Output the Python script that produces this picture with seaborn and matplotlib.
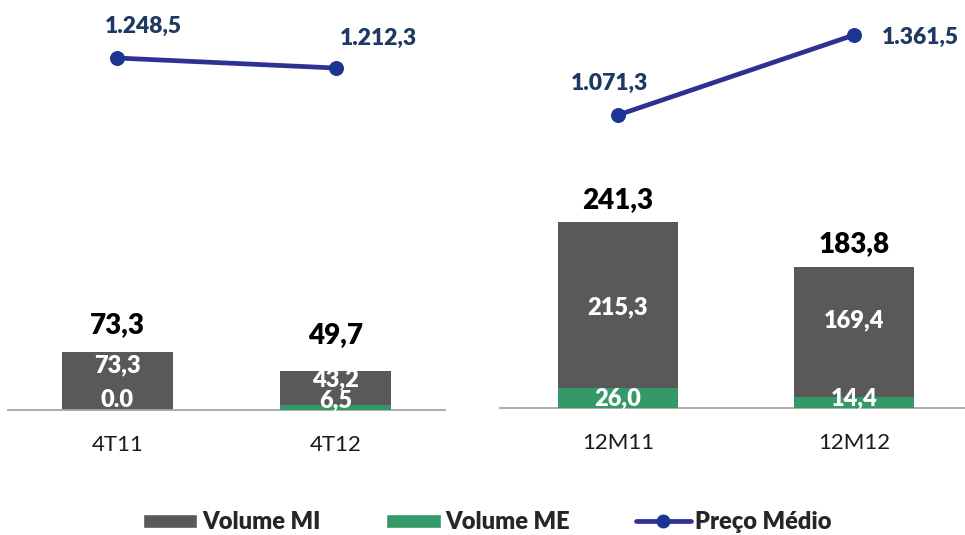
import matplotlib.pyplot as plt
import numpy as np
import seaborn as sns
from matplotlib.lines import Line2D
from matplotlib.patches import Patch

# dados (mil t / R$ por t)
periodos_tri = ["4T11", "4T12"]
periodos_ano = ["12M11", "12M12"]
volume_mi_tri = [73.3, 43.2]
volume_me_tri = [0.0, 6.5]
volume_mi_ano = [215.3, 169.4]
volume_me_ano = [26.0, 14.4]
preco_tri = [1248.5, 1212.3]
preco_ano = [1071.3, 1361.5]

COR_MI = "#595959"
COR_ME = "#339966"
COR_LINHA = "#2E3192"
COR_MARCA = "#1C3593"
COR_PRECO_TXT = "#1F3864"

sns.set_style("white")
plt.rcParams["font.family"] = ["Lato", "DejaVu Sans"]


def fmt_br(v):
    s = f"{v:,.1f}"
    return s.replace(",", "X").replace(".", ",").replace("X", ".")


def fmt_me(v):
    # o rótulo zero aparece com ponto no original
    return "0.0" if v == 0 else fmt_br(v)


def painel(fig, pos, cats, mi, me, preco, ylim_bar, ylim_preco,
           nudge_mi, gap_total, off_preco):
    ax = fig.add_axes(pos)
    mi = np.array(mi)
    me = np.array(me)
    total = mi + me
    x = np.arange(len(cats))

    # barra total (MI) e ME por cima, na base
    sns.barplot(x=cats, y=total, color=COR_MI, width=0.51, saturation=1,
                linewidth=0, ax=ax, zorder=2)
    sns.barplot(x=cats, y=me, color=COR_ME, width=0.51, saturation=1,
                linewidth=0, ax=ax, zorder=3)
    ax.set_xlim(-0.5, 1.5)
    ax.set_ylim(*ylim_bar)
    for s in ["top", "right", "left"]:
        ax.spines[s].set_visible(False)
    ax.spines["bottom"].set_color("#A6A6A6")
    ax.spines["bottom"].set_linewidth(1.3)
    ax.set_yticks([])
    ax.set_ylabel("")
    ax.tick_params(axis="x", length=0, pad=18, labelsize=16,
                   labelcolor="#1a1a1a")

    for i in range(len(cats)):
        ax.annotate(fmt_br(total[i]), (x[i], total[i]),
                    xytext=(0, gap_total[i]), textcoords="offset points",
                    ha="center", va="baseline", fontsize=20,
                    fontweight="heavy", color="black", zorder=5)
        ax.annotate(fmt_br(mi[i]), (x[i], me[i] + mi[i] / 2),
                    xytext=(0, nudge_mi[i]), textcoords="offset points",
                    ha="center", va="center", fontsize=17,
                    fontweight="heavy", color="white", zorder=5)
        ax.annotate(fmt_me(me[i]), (x[i], 0),
                    xytext=(0, 2), textcoords="offset points",
                    ha="center", va="baseline", fontsize=17,
                    fontweight="heavy", color="white", zorder=5)

    ax2 = ax.twinx()
    sns.lineplot(x=x, y=preco, ax=ax2, color=COR_LINHA, linewidth=3.4,
                 marker="o", markersize=10, markerfacecolor=COR_MARCA,
                 markeredgecolor=COR_MARCA)
    ax2.set_ylim(*ylim_preco)
    ax2.set_yticks([])
    ax2.set_ylabel("")
    for s in ax2.spines.values():
        s.set_visible(False)
    for i in range(len(cats)):
        ax2.annotate(fmt_br(preco[i]), (x[i], preco[i]),
                     xytext=off_preco[i], textcoords="offset points",
                     ha="center", va="baseline", fontsize=16.5,
                     fontweight="heavy", color=COR_PRECO_TXT)
    return ax


fig = plt.figure(figsize=(9.65, 5.35), dpi=100)
W, H = 965, 535

painel(fig, [8 / W, 125 / H, 437 / W, 410 / H], periodos_tri,
       volume_mi_tri, volume_me_tri, preco_tri,
       (0, 519), (-25.5, 1458.5),
       nudge_mi=[11, 6], gap_total=[14, 20],
       off_preco=[(19, 18), (31, 16.5)])
painel(fig, [500 / W, 127 / H, 472 / W, 408 / H], periodos_ano,
       volume_mi_ano, volume_me_ano, preco_ano,
       (0, 530), (8.5, 1488.5),
       nudge_mi=[-1.5, 8], gap_total=[10, 10],
       off_preco=[(-6, 18), (47.5, -6.5)])

handles = [
    Patch(facecolor=COR_MI, label="Volume MI"),
    Patch(facecolor=COR_ME, label="Volume ME"),
    Line2D([0], [0], color=COR_LINHA, linewidth=3.4, marker="o",
           markersize=9, markerfacecolor=COR_MARCA,
           markeredgecolor=COR_MARCA, label="Preço Médio"),
]
leg = fig.legend(handles=handles, loc="center", ncol=3,
                 bbox_to_anchor=(0.505, 0.024), frameon=False,
                 prop={"size": 17, "weight": "heavy"},
                 handlelength=2.3, handleheight=0.55, handletextpad=0.2,
                 columnspacing=2.8)

plt.savefig("out.png", dpi=100)
